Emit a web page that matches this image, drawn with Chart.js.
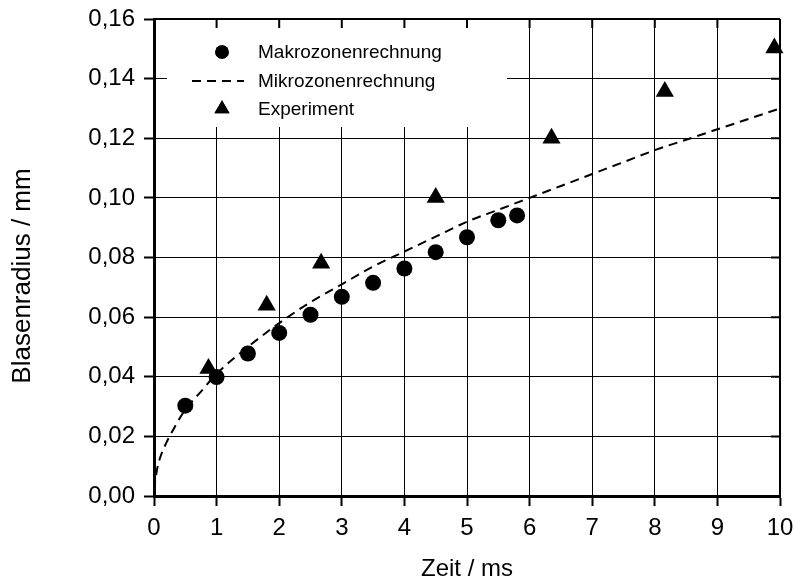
<!DOCTYPE html>
<html>
<head>
<meta charset="utf-8">
<script src="https://cdn.jsdelivr.net/npm/chart.js@4/dist/chart.umd.min.js"></script>
<style>
  html, body { margin: 0; padding: 0; background: #fff; }
  canvas { display: block; }
</style>
</head>
<body>
<canvas id="c" width="795" height="587"></canvas>
<script>
// Makrozonenrechnung (computed points)
const makroZeit   = [0.5, 1.0, 1.5, 2.0, 2.5, 3.0, 3.5, 4.0, 4.5, 5.0, 5.5, 5.8];
const makroRadius = [0.0303, 0.0399, 0.0478, 0.0547, 0.0608, 0.0668, 0.0715, 0.0763, 0.0818, 0.0868, 0.0925, 0.0941];

// Mikrozonenrechnung (continuous curve)
const mikroZeit   = [0, 0.05, 0.1, 0.2, 0.3, 0.5, 0.75, 1, 1.5, 2, 2.5, 3, 3.5, 4, 4.5, 5, 5.5, 6, 6.5, 7, 7.5, 8, 8.5, 9, 9.5, 10];
const mikroRadius = [0.002, 0.009, 0.013, 0.018, 0.022, 0.029, 0.035, 0.041, 0.050, 0.058, 0.065, 0.071, 0.077, 0.082, 0.087, 0.092, 0.096, 0.100, 0.104, 0.108, 0.112, 0.116, 0.1195, 0.123, 0.1265, 0.130];

// Experiment (measured points)
const expZeit   = [0.87, 1.80, 2.67, 4.50, 6.35, 8.16, 9.91];
const expRadius = [0.0428, 0.0640, 0.0781, 0.1001, 0.1200, 0.1357, 0.1503];

// Axis ticks and titles
const xTickValues = [0, 1, 2, 3, 4, 5, 6, 7, 8, 9, 10];
const yTickValues = [0, 0.02, 0.04, 0.06, 0.08, 0.10, 0.12, 0.14, 0.16];
const xTitle = 'Zeit / ms';
const yTitle = 'Blasenradius / mm';

const FONT = "'Liberation Sans', Arial, Helvetica, sans-serif";

const toPoints = (xs, ys) => xs.map((x, i) => ({ x: x, y: ys[i] }));

// Frame: top/right border with inward ticks, plus the rotated y title
const framePlugin = {
  id: 'frame',
  afterDraw(chart) {
    const { ctx, chartArea: a, scales } = chart;
    ctx.save();
    ctx.strokeStyle = '#000';
    ctx.lineWidth = 2;
    ctx.beginPath();
    ctx.moveTo(a.left, a.top); ctx.lineTo(a.right, a.top);
    ctx.moveTo(a.right, a.top); ctx.lineTo(a.right, a.bottom);
    ctx.stroke();
    ctx.beginPath();
    xTickValues.forEach(v => {
      const px = scales.x.getPixelForValue(v);
      ctx.moveTo(px, a.top); ctx.lineTo(px, a.top + 9);
    });
    yTickValues.forEach(v => {
      const py = scales.y.getPixelForValue(v);
      ctx.moveTo(a.right, py); ctx.lineTo(a.right - 9, py);
    });
    ctx.stroke();

    // y axis title
    ctx.fillStyle = '#000';
    ctx.font = '26px ' + FONT;
    ctx.textAlign = 'center';
    ctx.textBaseline = 'middle';
    ctx.translate(23, 276);
    ctx.rotate(-Math.PI / 2);
    ctx.fillText(yTitle, 0, 0);
    ctx.restore();
  }
};

// Legend inside the plot area, on a white box
const legendBox = { left: 167, top: 22, right: 507, bottom: 127 };
const innerLegendPlugin = {
  id: 'innerLegend',
  beforeDatasetsDraw(chart) {
    const { ctx } = chart;
    ctx.save();
    ctx.fillStyle = '#fff';
    ctx.fillRect(legendBox.left, legendBox.top, legendBox.right - legendBox.left, legendBox.bottom - legendBox.top);
    ctx.restore();
  },
  afterDraw(chart) {
    const { ctx } = chart;
    const rows = [52, 81, 109];
    const markerX = 222;
    const textX = 258;
    ctx.save();
    ctx.fillStyle = '#000';
    ctx.strokeStyle = '#000';
    ctx.font = '19px ' + FONT;
    ctx.textBaseline = 'middle';
    chart.data.datasets.forEach((ds, i) => {
      const y = rows[i];
      if (ds.showLine) {
        ctx.save();
        ctx.lineWidth = ds.borderWidth;
        ctx.setLineDash(ds.borderDash);
        ctx.beginPath();
        ctx.moveTo(192, y); ctx.lineTo(244, y);
        ctx.stroke();
        ctx.restore();
      } else {
        Chart.helpers.drawPoint(ctx, {
          pointStyle: ds.pointStyle,
          radius: ds.pointStyle === 'triangle' ? 8.7 : 6.8,
          borderWidth: 0,
          rotation: 0
        }, markerX, y);
        ctx.fill();
      }
      ctx.fillText(ds.label, textX, y + 1);
    });
    ctx.restore();
  }
};

// Keep the plot area fixed: no extra padding for overhanging edge labels
function noEdgePadding(scale) {
  scale.paddingLeft = 0;
  scale.paddingRight = 0;
  scale.paddingTop = 0;
  scale.paddingBottom = 0;
}

new Chart(document.getElementById('c'), {
  type: 'scatter',
  data: {
    datasets: [
      {
        label: 'Makrozonenrechnung',
        data: toPoints(makroZeit, makroRadius),
        pointStyle: 'circle',
        pointRadius: 8,
        backgroundColor: '#000',
        borderColor: '#000',
        borderWidth: 0,
        clip: false
      },
      {
        label: 'Mikrozonenrechnung',
        data: toPoints(mikroZeit, mikroRadius),
        showLine: true,
        pointRadius: 0,
        borderColor: '#000',
        borderWidth: 2,
        borderDash: [9, 6],
        cubicInterpolationMode: 'monotone',
        clip: false
      },
      {
        label: 'Experiment',
        data: toPoints(expZeit, expRadius),
        pointStyle: 'triangle',
        pointRadius: 10.5,
        backgroundColor: '#000',
        borderColor: '#000',
        borderWidth: 0,
        clip: false
      }
    ]
  },
  options: {
    responsive: false,
    animation: false,
    devicePixelRatio: 1,
    layout: { padding: { top: 19, right: 15, left: 0, bottom: 0 } },
    plugins: {
      legend: { display: false },
      tooltip: { enabled: false }
    },
    scales: {
      x: {
        type: 'linear',
        min: 0,
        max: 10,
        afterBuildTicks(scale) { scale.ticks = xTickValues.map(v => ({ value: v })); },
        afterFit(scale) { scale.height = 91; noEdgePadding(scale); },
        ticks: {
          color: '#000',
          font: { family: FONT, size: 24 },
          padding: 8,
          maxRotation: 0,
          callback: v => String(v)
        },
        grid: {
          color: '#000',
          lineWidth: 1,
          tickColor: '#000',
          tickWidth: 2,
          tickLength: 10
        },
        border: { display: true, color: '#000', width: 3 },
        title: {
          display: true,
          text: xTitle,
          color: '#000',
          font: { family: FONT, size: 24 },
          padding: { top: 0, bottom: 3 }
        }
      },
      y: {
        type: 'linear',
        min: 0,
        max: 0.16,
        afterBuildTicks(scale) { scale.ticks = yTickValues.map(v => ({ value: v })); },
        afterFit(scale) { scale.width = 154; noEdgePadding(scale); },
        ticks: {
          color: '#000',
          font: { family: FONT, size: 24 },
          padding: 9,
          callback: v => Number(v).toFixed(2).replace('.', ',')
        },
        grid: {
          color: '#000',
          lineWidth: 1,
          tickColor: '#000',
          tickWidth: 2,
          tickLength: 10
        },
        border: { display: true, color: '#000', width: 3 },
        title: { display: false }
      }
    }
  },
  plugins: [innerLegendPlugin, framePlugin]
});
</script>
</body>
</html>
